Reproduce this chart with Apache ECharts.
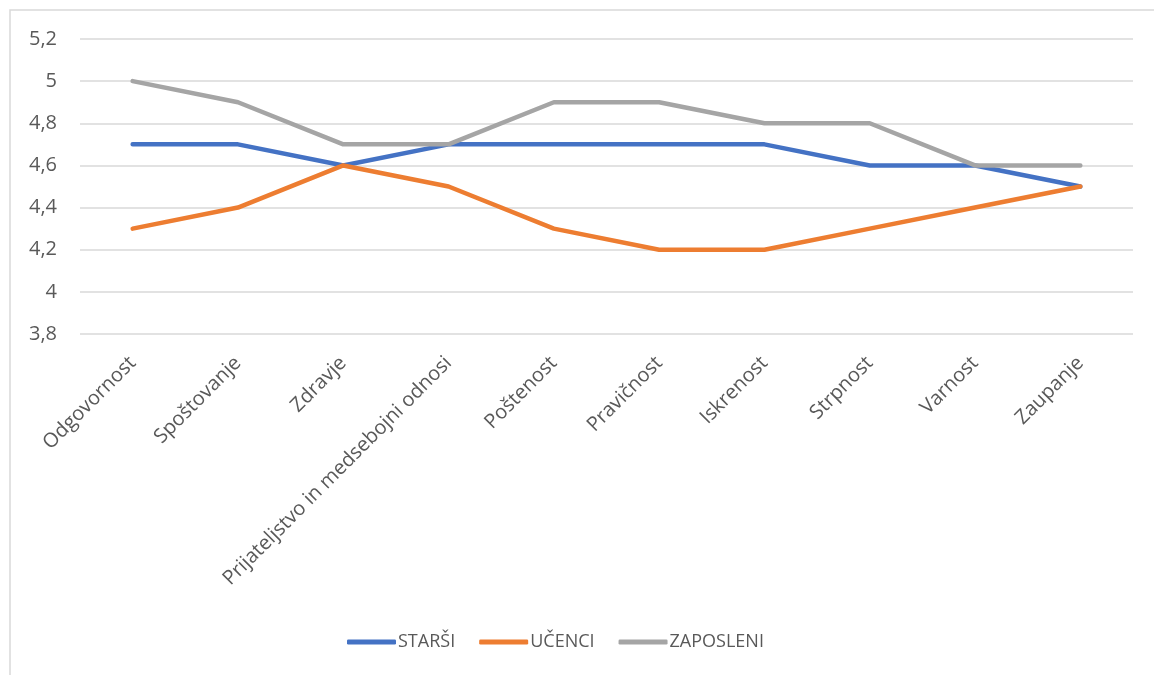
<!DOCTYPE html>
<html>
<head>
<meta charset="utf-8">
<script src="https://cdn.jsdelivr.net/npm/echarts@6/dist/echarts.min.js"></script>
<style>
  html, body { margin: 0; padding: 0; background: #fff; }
  #main { width: 1154px; height: 675px; }
</style>
</head>
<body>
<div id="main"></div>
<script>
// podatki
var categories = ['Odgovornost', 'Spoštovanje', 'Zdravje', 'Prijateljstvo in medsebojni odnosi', 'Poštenost', 'Pravičnost', 'Iskrenost', 'Strpnost', 'Varnost', 'Zaupanje'];
var starsi = [4.7, 4.7, 4.6, 4.7, 4.7, 4.7, 4.7, 4.6, 4.6, 4.5];
var ucenci = [4.3, 4.4, 4.6, 4.5, 4.3, 4.2, 4.2, 4.3, 4.4, 4.5];
var zaposleni = [5.0, 4.9, 4.7, 4.7, 4.9, 4.9, 4.8, 4.8, 4.6, 4.6];

var chart = echarts.init(document.getElementById('main'));
var font = 'Open Sans';

function lineSeries(name, data, color) {
  return {
    name: name,
    type: 'line',
    data: data,
    showSymbol: false,
    symbol: 'none',
    color: color,
    lineStyle: { width: 4.5, color: color, cap: 'round', join: 'round' }
  };
}

var option = {
  animation: false,
  backgroundColor: '#fff',
  graphic: [{
    type: 'rect',
    shape: { x: 10, y: 10, width: 1160, height: 690 },
    style: { fill: 'none', stroke: '#d9d9d9', lineWidth: 1.5 }
  }],
  grid: { left: 80, right: 21, top: 39, bottom: 341 },
  xAxis: {
    type: 'category',
    data: categories,
    boundaryGap: true,
    axisLine: { show: false },
    axisTick: { show: false },
    axisLabel: {
      rotate: 45,
      interval: 0,
      margin: 26,
      color: '#595959',
      fontFamily: font,
      fontSize: 20
    }
  },
  yAxis: {
    type: 'value',
    min: 3.8,
    max: 5.2,
    interval: 0.2,
    axisLine: { show: false },
    axisTick: { show: false },
    splitLine: { lineStyle: { color: '#d9d9d9', width: 1.5 } },
    axisLabel: {
      margin: 23,
      color: '#595959',
      fontFamily: font,
      fontSize: 20,
      formatter: function (v) {
        return String(Math.round(v * 10) / 10).replace('.', ',');
      }
    }
  },
  legend: {
    bottom: 19,
    left: 342,
    icon: 'roundRect',
    itemWidth: 49,
    itemHeight: 5,
    itemGap: 24,
    textStyle: { color: '#595959', fontFamily: font, fontSize: 18, padding: [0, 0, 0, -3] },
    data: ['STARŠI', 'UČENCI', 'ZAPOSLENI']
  },
  series: [
    lineSeries('STARŠI', starsi, '#4472C4'),
    lineSeries('UČENCI', ucenci, '#ED7D31'),
    lineSeries('ZAPOSLENI', zaposleni, '#A5A5A5')
  ]
};

chart.setOption(option);
</script>
</body>
</html>
